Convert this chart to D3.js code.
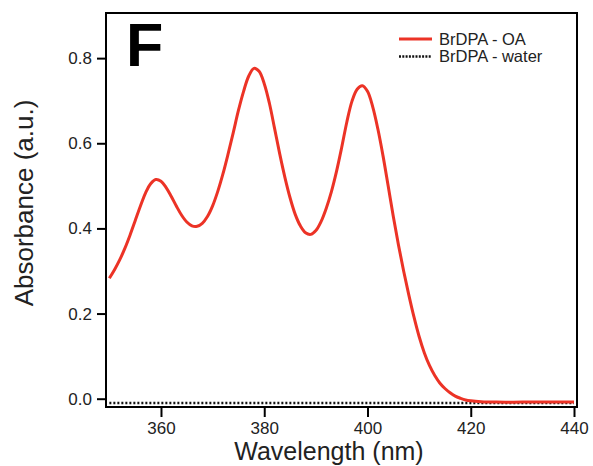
<!DOCTYPE html>
<html>
<head>
<meta charset="utf-8">
<script src="https://cdn.jsdelivr.net/npm/d3@7"></script>
<style>
  body { margin: 0; background: #fff; }
  svg text { font-family: "Liberation Sans", Arial, Helvetica, sans-serif; }
</style>
</head>
<body>
<div id="chart"></div>
<script>
// wavelengths (nm) and absorbance
const wavelengths = [350,351,352,353,354,355,356,357,358,359,
  360,361,362,363,364,365,366,367,368,369,
  370,371,372,373,374,375,376,377,378,379,
  380,381,382,383,384,385,386,387,388,389,
  390,391,392,393,394,395,396,397,398,399,
  400,401,402,403,404,405,406,407,408,409,
  410,411,412,413,414,415,416,417,418,419,
  420,422,425,430,435,440];
const oaValues = [0.283,0.303,0.326,0.353,0.384,0.418,0.452,0.483,0.505,0.515,
  0.511,0.496,0.475,0.452,0.431,0.415,0.406,0.405,0.412,0.428,
  0.453,0.487,0.528,0.575,0.625,0.677,0.722,0.758,0.776,0.769,
  0.740,0.694,0.635,0.575,0.520,0.472,0.433,0.406,0.390,0.386,
  0.395,0.416,0.447,0.486,0.534,0.590,0.650,0.699,0.727,0.735,
  0.722,0.686,0.634,0.571,0.500,0.428,0.361,0.300,0.244,0.192,
  0.146,0.108,0.078,0.055,0.037,0.024,0.014,0.006,0.001,-0.003,
  -0.005,-0.007,-0.008,-0.008,-0.008,-0.008];
const waterWavelengths = [350,360,370,380,390,400,410,420,430,440];
const waterValues = [-0.010,-0.010,-0.010,-0.010,-0.010,-0.010,-0.010,-0.010,-0.010,-0.010];
const xTicks = [360,380,400,420,440];
const yTicks = [0.0,0.2,0.4,0.6,0.8];
const seriesNames = ["BrDPA - OA", "BrDPA - water"];

const W = 593, H = 466;
const plotLeft = 106, plotTop = 13, plotRight = 577, plotBottom = 407;

const svg = d3.select("#chart").append("svg")
  .attr("width", W).attr("height", H);

const x = d3.scaleLinear().domain([349.35, 440.58]).range([plotLeft, plotRight]);
const y = d3.scaleLinear().domain([-0.0195, 0.906]).range([plotBottom, plotTop]);

// frame
svg.append("rect")
  .attr("x", plotLeft).attr("y", plotTop)
  .attr("width", plotRight - plotLeft).attr("height", plotBottom - plotTop)
  .attr("fill", "none").attr("stroke", "#000").attr("stroke-width", 2);

// axes
const xAxis = svg.append("g")
  .attr("transform", `translate(0,${plotBottom})`)
  .call(d3.axisBottom(x).tickValues(xTicks).tickSize(10).tickPadding(5).tickFormat(d3.format("d")));
const yAxis = svg.append("g")
  .attr("transform", `translate(${plotLeft},0)`)
  .call(d3.axisLeft(y).tickValues(yTicks).tickSize(9).tickPadding(5).tickFormat(d3.format(".1f")));

[xAxis, yAxis].forEach(g => {
  g.select(".domain").remove();
  g.selectAll(".tick line").attr("stroke", "#000").attr("stroke-width", 2);
  g.selectAll(".tick text").attr("fill", "#222").attr("font-size", 17)
    .style("font-family", "'Liberation Sans', Arial, sans-serif");
});
xAxis.selectAll(".tick text").attr("dy", "0.68em");

// series
const line = d3.line().x(d => x(d[0])).y(d => y(d[1]));

svg.append("path")
  .datum(waterWavelengths.map((w, i) => [w, waterValues[i]]))
  .attr("d", line)
  .attr("fill", "none").attr("stroke", "#111")
  .attr("stroke-width", 2.5).attr("stroke-dasharray", "2,2");

svg.append("path")
  .datum(wavelengths.map((w, i) => [w, oaValues[i]]))
  .attr("d", line.curve(d3.curveCatmullRom.alpha(0.5)))
  .attr("fill", "none").attr("stroke", "#ec3326")
  .attr("stroke-width", 3);

// panel letter
svg.append("text")
  .attr("x", 126).attr("y", 66)
  .attr("font-size", 61).attr("font-weight", "bold")
  .attr("fill", "#000").text("F");

// legend
const legend = svg.append("g");
seriesNames.forEach((name, i) => {
  const ly = 39 + i * 17.5;
  legend.append("line")
    .attr("x1", 399).attr("x2", 432).attr("y1", ly).attr("y2", ly)
    .attr("stroke", i === 0 ? "#ec3326" : "#111")
    .attr("stroke-width", i === 0 ? 3 : 2.5)
    .attr("stroke-dasharray", i === 0 ? null : "2,1.3");
  legend.append("text")
    .attr("x", 439).attr("y", ly + 5.5)
    .attr("font-size", 16.5).attr("fill", "#222").text(name);
});

// axis titles
svg.append("text")
  .attr("x", 329).attr("y", 460)
  .attr("text-anchor", "middle").attr("font-size", 25).attr("fill", "#222")
  .text("Wavelength (nm)");
svg.append("text")
  .attr("transform", `translate(33,203) rotate(-90)`)
  .attr("text-anchor", "middle").attr("font-size", 26).attr("fill", "#222")
  .text("Absorbance (a.u.)");
</script>
</body>
</html>
